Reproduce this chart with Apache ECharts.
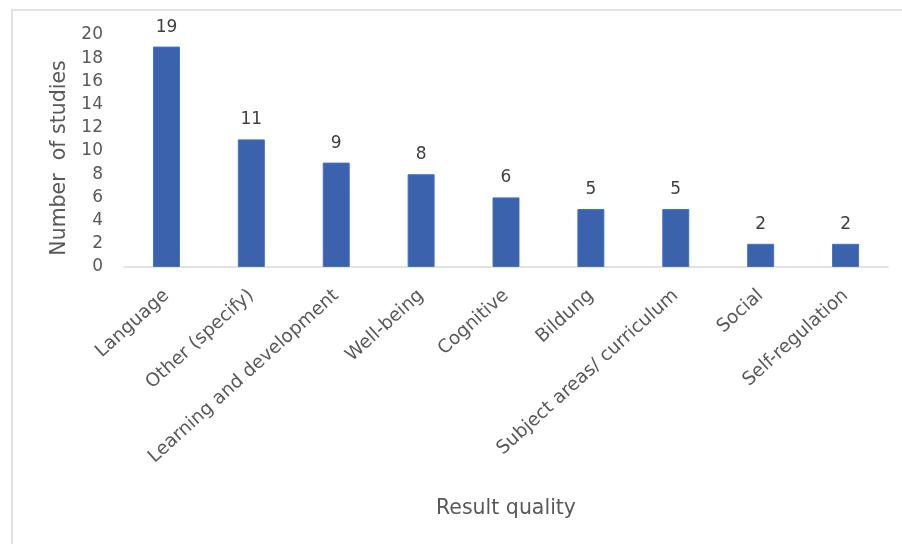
<!DOCTYPE html>
<html><head><meta charset="utf-8">
<script src="https://cdn.jsdelivr.net/npm/echarts@6/dist/echarts.min.js"></script>
<style>html,body{margin:0;padding:0;background:#fff}#c{width:902px;height:544px}</style>
</head><body><div id="c"></div>
<script>
const categories = ["Language","Other (specify)","Learning and development","Well-being","Cognitive","Bildung","Subject areas/ curriculum","Social","Self-regulation"];
const values = [19,11,9,8,6,5,5,2,2];
const yTicks = {min:0,max:20,interval:2};
const xTitle = "Result quality";
const yTitle = "Number  of studies";

const FONT = "'DejaVu Sans', sans-serif";
const chart = echarts.init(document.getElementById('c'), null, {renderer:'canvas'});
chart.setOption({
  backgroundColor:'#fff',
  animation:false,
  graphic:[
    {type:'line',shape:{x1:11,y1:10,x2:902,y2:10},style:{stroke:'#e3e3e3',lineWidth:2}},
    {type:'line',shape:{x1:12,y1:10,x2:12,y2:544},style:{stroke:'#e3e3e3',lineWidth:2}}
  ],
  grid:{left:124,right:14,top:35,bottom:277,containLabel:false},
  xAxis:{
    type:'category',data:categories,
    name:xTitle,nameLocation:'middle',nameGap:231,
    nameTextStyle:{fontFamily:FONT,fontSize:20.5,color:'#595959'},
    axisLine:{lineStyle:{color:'#d9d9d9',width:1.5}},
    axisTick:{show:false},
    axisLabel:{rotate:42,interval:0,margin:26,fontFamily:FONT,fontSize:18.5,color:'#595959'}
  },
  yAxis:{
    type:'value',min:yTicks.min,max:yTicks.max,interval:yTicks.interval,
    name:yTitle,nameLocation:'middle',nameGap:52,nameRotate:90,
    nameTextStyle:{fontFamily:FONT,fontSize:20.5,color:'#595959',padding:[0,14,0,0]},
    axisLine:{show:false},axisTick:{show:false},splitLine:{show:false},
    axisLabel:{margin:21,fontFamily:FONT,fontSize:17,color:'#595959'}
  },
  series:[{
    type:'bar',data:values,barWidth:27,
    itemStyle:{color:'#3A62AD',borderColor:'#4472C4',borderWidth:1},
    label:{show:true,position:'top',distance:11,fontFamily:FONT,fontSize:17,color:'#404040'}
  }]
});
</script></body></html>
